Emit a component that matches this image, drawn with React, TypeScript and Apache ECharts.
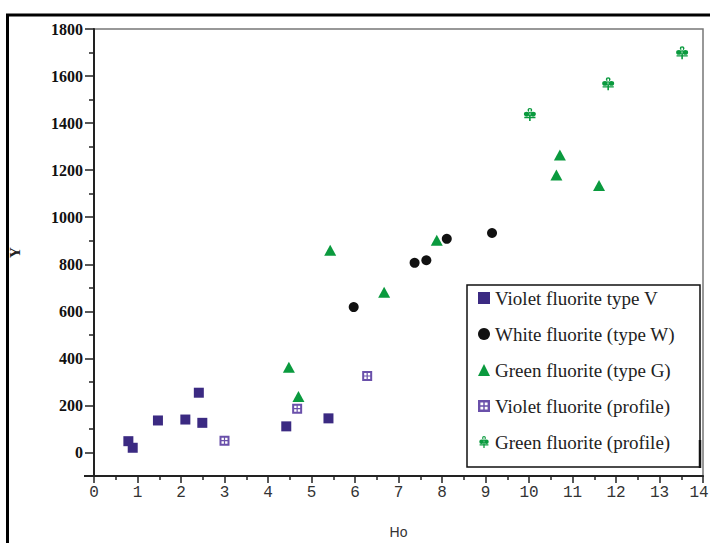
import React, { useEffect, useRef } from "react";
import * as echarts from "echarts";

const violetV: number[][] = [
  [0.79, 48], [0.89, 20], [1.47, 136], [2.1, 140], [2.41, 254], [2.49, 126], [4.42, 111], [5.39, 145],
];
const whiteW: number[][] = [
  [5.97, 618], [7.37, 806], [7.64, 817], [8.11, 908], [9.15, 933],
];
const greenG: number[][] = [
  [4.48, 362], [4.7, 238], [5.43, 860], [6.67, 681], [7.88, 902], [10.63, 1179], [10.71, 1264], [11.61, 1135],
];
const violetProfile: number[][] = [
  [3.0, 50], [4.67, 186], [6.28, 325],
];
const greenProfile: number[][] = [
  [10.02, 1437], [11.82, 1567], [13.52, 1699],
];
const seriesNames = [
  "Violet fluorite type V",
  "White fluorite (type W)",
  "Green fluorite (type G)",
  "Violet fluorite (profile)",
  "Green fluorite (profile)",
];
const yMajorTicks = [0, 200, 400, 600, 800, 1000, 1200, 1400, 1600, 1800];
const yMinorTicks = [-100, 100, 300, 500, 700, 900, 1100, 1300, 1500, 1700];

const gridSquare =
  "path://M0,0 L10,0 L10,10 L0,10 Z M2,2 L2,4.4 L4.4,4.4 L4.4,2 Z M5.6,2 L5.6,4.4 L8,4.4 L8,2 Z M2,5.6 L2,8 L4.4,8 L4.4,5.6 Z M5.6,5.6 L5.6,8 L8,8 L8,5.6 Z";
const clover =
  "path://M7,4 a3,3 0 1,0 6,0 a3,3 0 1,0 -6,0 Z M2.5,10 a3.5,3.5 0 1,0 7,0 a3.5,3.5 0 1,0 -7,0 Z M10.5,10 a3.5,3.5 0 1,0 7,0 a3.5,3.5 0 1,0 -7,0 Z M9,3 L11,3 L11,20 L9,20 Z M3,14 L17,14 L17,16 L3,16 Z";

export default function App() {
  const ref = useRef<HTMLDivElement>(null);
  useEffect(() => {
    if (!ref.current) return;
    const chart = echarts.init(ref.current, null, { renderer: "svg" });
    const serif = "'Liberation Serif', 'Times New Roman', serif";
    chart.setOption({
      animation: false,
      backgroundColor: "#fff",
      grid: {
        left: 94,
        right: 7,
        top: 29,
        bottom: 67,
        show: true,
        borderColor: "#777",
        borderWidth: 1.5,
        outerBoundsMode: "none",
        containLabel: false,
      },
      xAxis: {
        type: "value",
        min: 0,
        max: 14,
        interval: 1,
        name: "Ho",
        nameLocation: "middle",
        nameGap: 49,
        nameTextStyle: { fontFamily: "'Liberation Sans', Arial, sans-serif", fontSize: 14, color: "#333" },
        axisLine: { show: true, onZero: false, lineStyle: { color: "#222", width: 2 } },
        axisTick: { show: true, length: 7, lineStyle: { color: "#222", width: 1.5 } },
        minorTick: { show: true, splitNumber: 2, length: 4, lineStyle: { color: "#222", width: 1.5 } },
        axisLabel: {
          fontFamily: "'Liberation Mono', monospace",
          fontSize: 16,
          color: "#333",
          margin: 9,
          formatter: (v: number) => (v === 14 ? "{last|14}" : String(v)),
          rich: {
            last: { fontFamily: "'Liberation Mono', monospace", fontSize: 16, color: "#333", padding: [0, 8, 0, 0] },
          },
        },
        splitLine: { show: false },
      },
      yAxis: [
        {
          type: "value",
          min: -100,
          max: 1800,
          name: "Y",
          nameLocation: "middle",
          nameGap: 72,
          nameRotate: 90,
          nameTextStyle: { fontFamily: serif, fontWeight: "bold", fontSize: 15, color: "#222" },
          axisLine: { show: true, onZero: false, lineStyle: { color: "#222", width: 2 } },
          axisTick: { show: true, length: 9, customValues: yMajorTicks, lineStyle: { color: "#222", width: 1.5 } },
          axisLabel: {
            customValues: yMajorTicks,
            formatter: (v: number) => String(v),
            fontFamily: serif,
            fontWeight: "bold",
            fontSize: 16,
            color: "#111",
            margin: 11,
          },
          splitLine: { show: false },
        },
        {
          type: "value",
          min: -100,
          max: 1800,
          position: "left",
          axisLine: { show: false, onZero: false },
          axisTick: { show: true, length: 5, customValues: yMinorTicks, lineStyle: { color: "#222", width: 1.5 } },
          axisLabel: { show: false },
          splitLine: { show: false },
        },
      ],
      legend: {
        orient: "vertical",
        left: 473,
        top: 283,
        itemGap: 16,
        itemWidth: 12,
        itemHeight: 12,
        textStyle: { fontFamily: serif, fontSize: 19, color: "#222", lineHeight: 20 },
        data: seriesNames,
      },
      graphic: [
        { type: "rect", shape: { x: 467, y: 285, width: 233, height: 182 }, style: { fill: "none", stroke: "#111", lineWidth: 1.5 }, z: 10 },
        { type: "line", shape: { x1: 700, y1: 440, x2: 700, y2: 468 }, style: { stroke: "#111", lineWidth: 2.5 }, z: 10 },
        { type: "line", shape: { x1: 84, y1: 476, x2: 94, y2: 476 }, style: { stroke: "#222", lineWidth: 2 }, z: 10 },
        { type: "line", shape: { x1: 6, y1: 15, x2: 710, y2: 15 }, style: { stroke: "#000", lineWidth: 3 }, z: 10 },
        { type: "line", shape: { x1: 7.5, y1: 15, x2: 7.5, y2: 543 }, style: { stroke: "#000", lineWidth: 3 }, z: 10 },
      ],
      series: [
        {
          name: seriesNames[0],
          type: "scatter",
          data: violetV,
          symbol: "rect",
          symbolSize: 10,
          itemStyle: { color: "#3b2a82", opacity: 1 },
        },
        {
          name: seriesNames[1],
          type: "scatter",
          data: whiteW,
          symbol: "circle",
          symbolSize: 10,
          itemStyle: { color: "#111", opacity: 1 },
        },
        {
          name: seriesNames[2],
          type: "scatter",
          data: greenG,
          symbol: "triangle",
          symbolSize: [12, 11],
          itemStyle: { color: "#0a9a3e", opacity: 1 },
        },
        {
          name: seriesNames[3],
          type: "scatter",
          data: violetProfile,
          symbol: gridSquare,
          symbolSize: 10,
          itemStyle: { color: "#6a50aa", opacity: 1 },
        },
        {
          name: seriesNames[4],
          type: "scatter",
          data: greenProfile,
          symbol: clover,
          symbolSize: [12, 13],
          itemStyle: { color: "#0a9a3e", opacity: 1 },
        },
      ],
    });
    return () => chart.dispose();
  }, []);
  return (
    <div
      ref={ref}
      style={{ position: "fixed", left: 0, top: 0, width: 710, height: 543, background: "#fff" }}
    />
  );
}
